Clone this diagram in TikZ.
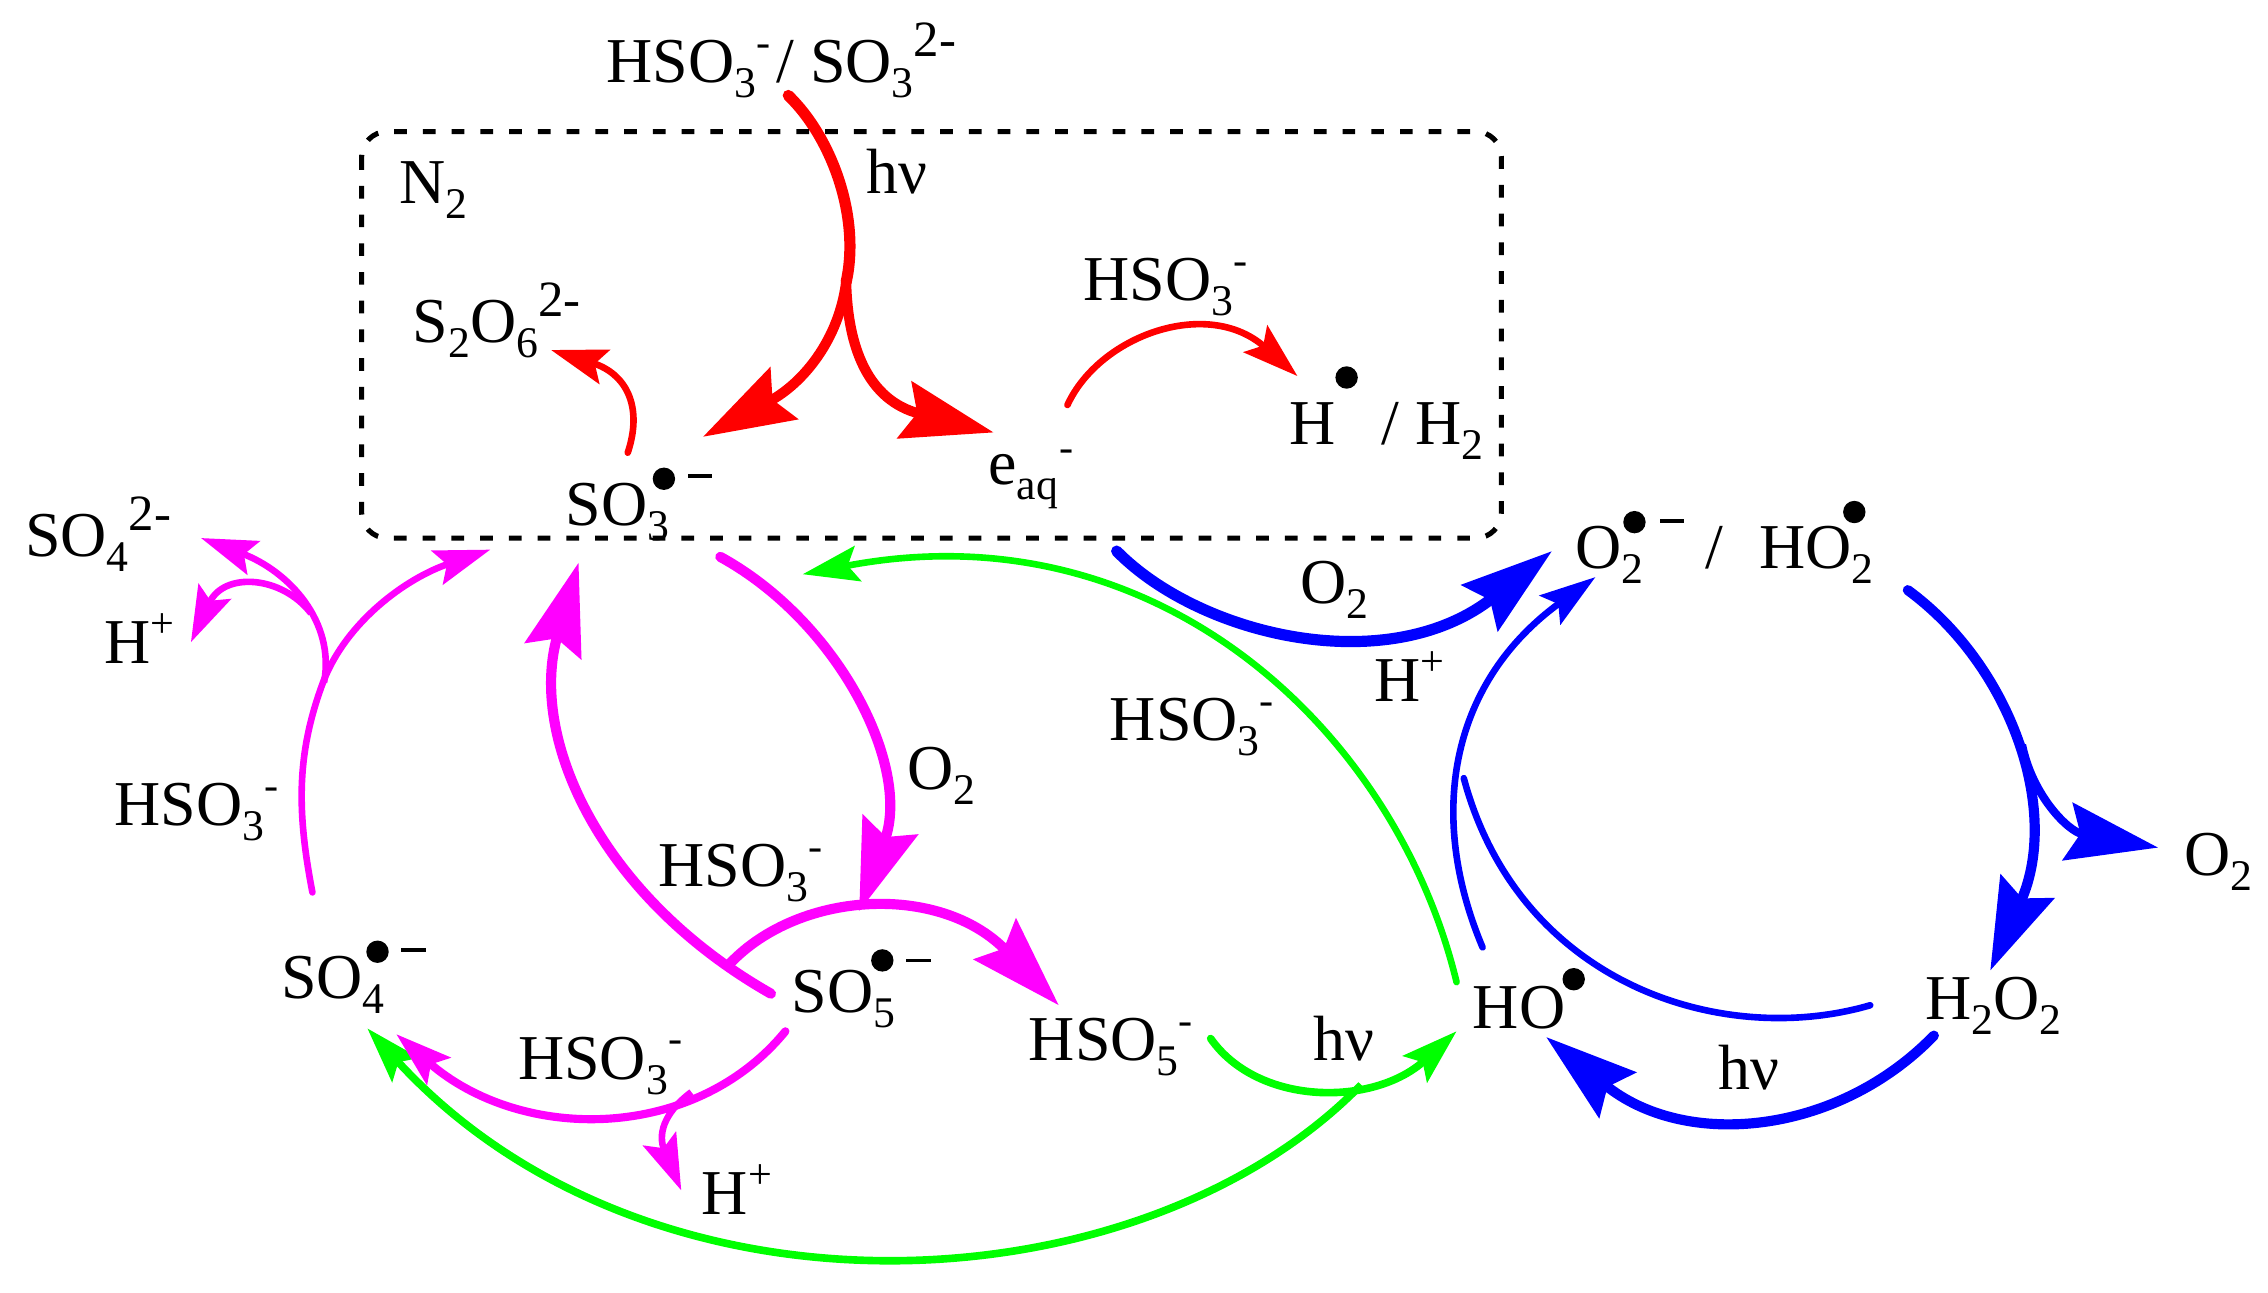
\documentclass[tikz,border=0pt]{standalone}
\usepackage{fontspec}
\setmainfont{Liberation Serif}
\usetikzlibrary{arrows.meta}
\definecolor{pinkline}{RGB}{255,0,255}
\newcommand{\subt}[1]{\raisebox{-.235em}{\fontsize{8.6}{10}\selectfont #1}}
\newcommand{\supt}[1]{\raisebox{.41em}{\fontsize{8.3}{10}\selectfont #1}}
\newcommand{\suptwo}{\raisebox{.41em}{\fontsize{10}{10}\selectfont 2-}}
\tikzset{
    lab/.style={anchor=base west,inner sep=0pt,xshift=-.4pt,font=\fontsize{12.57}{15}\selectfont},
    spot/.style={circle,fill=black,inner sep=0pt,minimum size=4.4pt},
    minus/.style={rectangle,fill=black,inner sep=0pt,minimum width=4.8pt,minimum height=.75pt},
    bighead/.style={-{Stealth[length=18pt,width=11.4pt,inset=2.5pt]}},
    smallhead/.style={-{Stealth[length=11pt,width=7pt,inset=2pt]}},
    fat/.style={line width=2pt},
    slim/.style={line width=1.3pt}
}

\begin{document}
\begin{tikzpicture}[x=.01cm,y=-.01cm]
        \useasboundingbox (0,0) rectangle (1568,893.3);

        \node[lab] (hso3top) at (420,57) {HSO\subt{3}\supt{-}\hspace{1.2pt}/ SO\subt{3}\suptwo};
        \node[lab] (ntwo) at (277,141) {N\subt{2}};
        \node[lab] (hvtop) at (600,134) {hν};
        \node[lab] (stwo) at (286,237) {S\subt{2}O\subt{6}\suptwo};
        \node[lab] (so3) at (392,363) {SO\subt{3}};
        \node[lab] (eaq) at (684,335) {e\subt{aq}};
        \node[lab] (eminus) at (733,337) {\supt{-}};
        \node[lab] (hso3red) at (750,208) {HSO\subt{3}\supt{-}};
        \node[lab] (hrad) at (892,307) {H};
        \node[lab] (hsplit) at (956,307) {/ H\subt{2}};
        \node[lab] (o2rad) at (1090,393) {O\subt{2}};
        \node[lab] (slash) at (1180,393) {/};
        \node[lab] (ho2) at (1217,393) {HO\subt{2}};
        \node[lab] (o2right) at (1511,605) {O\subt{2}};
        \node[lab] (h2o2) at (1332,705) {H\subt{2}O\subt{2}};
        \node[lab] (hvblue) at (1189,753) {hν};
        \node[lab] (ho) at (1019,711) {HO};
        \node[lab] (hplusblue) at (951,485) {H\supt{+}};
        \node[lab] (o2blue) at (900,417) {O\subt{2}};
        \node[lab] (hso3green) at (768,512) {HSO\subt{3}\supt{-}};
        \node[lab] (o2pink) at (628,546) {O\subt{2}};
        \node[lab] (hso3mid) at (456,613) {HSO\subt{3}\supt{-}};
        \node[lab] (so5) at (548,700) {SO\subt{5}};
        \node[lab] (hso5) at (712,733) {HSO\subt{5}\supt{-}};
        \node[lab] (hvgreen) at (909,733) {hν};
        \node[lab] (hso3low) at (359,746) {HSO\subt{3}\supt{-}};
        \node[lab] (hpluslow) at (486,840) {H\supt{+}};
        \node[lab] (so4) at (195,690) {SO\subt{4}};
        \node[lab] (hso3left) at (80,571) {HSO\subt{3}\supt{-}};
        \node[lab] (hplusleft) at (73,459) {H\supt{+}};
        \node[lab] (so4two) at (18,385) {SO\subt{4}\suptwo};

        \foreach \n/\x/\y in {so3/459/331,hrad/931/261,o2/1130/361,ho2/1282/354,ho/1088/677,so5/610/664,so4/261/658}
        \node[spot] (dot\n) at (\x,\y) {};
        \foreach \n/\x/\y in {so3/484/329,o2/1156/360,so5/635/664,so4/286/657}
        \node[minus] (neg\n) at (\x,\y) {};

        \coordinate (redstart) at (545,66);
        \coordinate (redfork) at (585,195);
        \coordinate (redleft) at (486,302);
        \coordinate (redright) at (687,299);
        \coordinate (redso3) at (434,313);
        \coordinate (redstwo) at (381,242);
        \coordinate (redarcl) at (738,280);
        \coordinate (redarcr) at (897,260);
        \draw[red,line width=2.2pt,line cap=round] (redstart) .. controls (575,95) and (595,150) .. (redfork);
        \draw[red,fat,bighead] (redfork) .. controls (580,235) and (555,265) .. (redleft);
        \draw[red,fat,bighead] (redfork) .. controls (586,240) and (600,277) .. (redright);
        \draw[red,slim,smallhead,line cap=round] (redso3) .. controls (445,280) and (432,258) .. (redstwo);
        \draw[red,slim,smallhead,line cap=round] (redarcl) .. controls (760,232) and (835,205) .. (redarcr);

        \draw[line width=1pt,dash pattern=on 2.5pt off 3.15pt,rounded corners=5pt] (250,91) rectangle (1038,372);

        \coordinate (blueo2l) at (772,381);
        \coordinate (blueo2r) at (1073,381);
        \coordinate (bluehol) at (1025,655);
        \coordinate (bluehor) at (1103,399);
        \coordinate (bluetop) at (1319,408);
        \coordinate (bluepero) at (1376,671);
        \coordinate (bluesplit) at (1398,515);
        \coordinate (blueotwo) at (1492,586);
        \coordinate (bluehv) at (1337,716);
        \coordinate (bluehv2) at (1069,717);
        \coordinate (bluethinr) at (1293,695);
        \coordinate (bluethinl) at (1012,538);
        \draw[blue,line width=2.2pt,bighead,line cap=round] (blueo2l) .. controls (830,440) and (960,470) .. (blueo2r);
        \draw[blue,slim,smallhead,line cap=round] (bluehol) .. controls (985,560) and (1005,470) .. (bluehor);
        \draw[blue,fat,bighead,line cap=round] (bluetop) .. controls (1390,460) and (1425,560) .. (bluepero);
        \draw[blue,line width=1.6pt,bighead] (bluesplit) .. controls (1405,550) and (1430,575) .. (blueotwo);
        \draw[blue,fat,bighead,line cap=round] (bluehv) .. controls (1270,785) and (1165,795) .. (bluehv2);
        \draw[blue,slim,line cap=round] (bluethinr) .. controls (1190,725) and (1050,680) .. (bluethinl);

        \coordinate (greenho) at (1007,679);
        \coordinate (greenso3) at (555,397);
        \coordinate (greenhso) at (837,718);
        \coordinate (greentip) at (1007,713);
        \coordinate (greenjoin) at (941,750);
        \coordinate (greenso4) at (254,711);
        \draw[green,slim,smallhead,line cap=round] (greenho) .. controls (965,505) and (800,350) .. (greenso3);
        \draw[green,line width=1.5pt,smallhead,line cap=round] (greenhso) .. controls (870,765) and (950,765) .. (greentip);
        \draw[green,line width=1.5pt,smallhead] (greenjoin) .. controls (790,905) and (450,925) .. (greenso4);

        \coordinate (pinktop) at (498,385);
        \coordinate (pinkso5) at (594,630);
        \coordinate (pinkback) at (533,687);
        \coordinate (pinkso3) at (400,389);
        \coordinate (pinkarcl) at (502,669);
        \coordinate (pinkhso) at (732,695);
        \coordinate (pinklow) at (543,713);
        \coordinate (pinkso4) at (274,715);
        \coordinate (pinkfork) at (478,755);
        \coordinate (pinkh) at (471,823);
        \coordinate (pinkleft) at (216,617);
        \coordinate (pinkup) at (339,380);
        \coordinate (pinkfork2) at (224,472);
        \coordinate (pinkso4two) at (139,372);
        \coordinate (pinkfork3) at (215,424);
        \coordinate (pinkhtwo) at (132,444);
        \draw[pinkline,fat,bighead,line cap=round] (pinktop) .. controls (580,430) and (630,530) .. (pinkso5);
        \draw[pinkline,fat,bighead,line cap=round] (pinkback) .. controls (415,620) and (365,510) .. (pinkso3);
        \draw[pinkline,fat,bighead] (pinkarcl) .. controls (550,615) and (650,610) .. (pinkhso);
        \draw[pinkline,line width=1.6pt,smallhead,line cap=round] (pinklow) .. controls (480,790) and (360,790) .. (pinkso4);
        \draw[pinkline,slim,smallhead] (pinkfork) .. controls (458,770) and (455,785) .. (pinkh);
        \draw[pinkline,slim,smallhead,line cap=round] (pinkleft) .. controls (205,560) and (205,520) .. (224,470) .. controls (240,430) and (280,400) .. (pinkup);
        \draw[pinkline,slim,smallhead] (pinkfork2) .. controls (232,430) and (200,395) .. (pinkso4two);
        \draw[pinkline,slim,smallhead] (pinkfork3) .. controls (195,398) and (155,395) .. (pinkhtwo);
    \end{tikzpicture}
\end{document}
